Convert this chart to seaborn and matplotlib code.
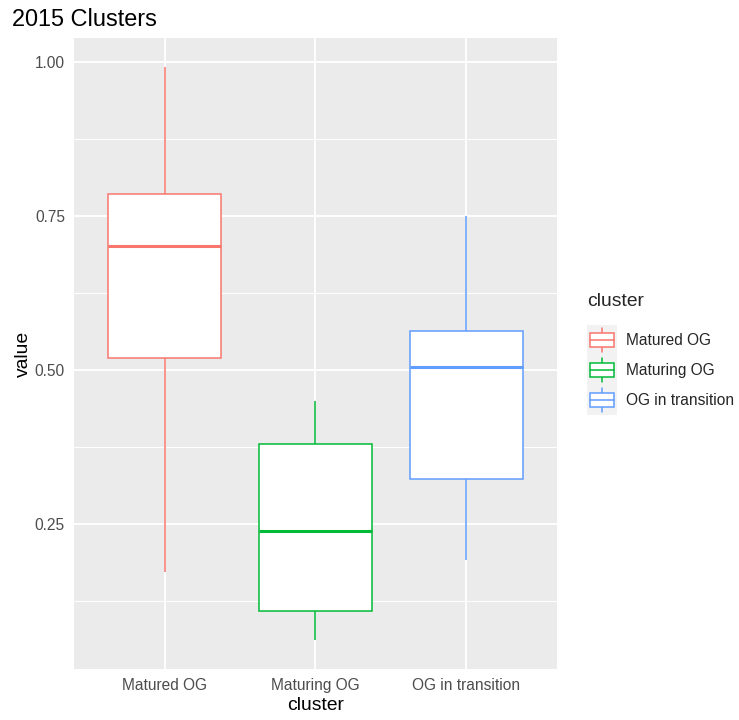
import numpy as np
import pandas as pd
import matplotlib
matplotlib.use("Agg")
import matplotlib.pyplot as plt
import seaborn as sns
from matplotlib.patches import Rectangle
from matplotlib.lines import Line2D
from matplotlib.legend_handler import HandlerBase

# Five-number summaries (min, Q1, median, Q3, max)
clusters = ["Matured OG", "Maturing OG", "OG in transition"]
matured_og = [0.172, 0.519, 0.701, 0.786, 0.992]
maturing_og = [0.062, 0.110, 0.240, 0.380, 0.450]
og_in_transition = [0.192, 0.323, 0.505, 0.563, 0.750]
colors = ["#F8766D", "#00BA38", "#619CFF"]
yticks = [0.25, 0.50, 0.75, 1.00]
ytick_labels = ["0.25", "0.50", "0.75", "1.00"]

df = pd.DataFrame({
    "cluster": np.repeat(clusters, 5),
    "value": matured_og + maturing_og + og_in_transition,
})

sns.set_theme(style="white")
plt.rcParams["font.family"] = ["Liberation Sans", "DejaVu Sans"]

W, H = 739, 720
fig = plt.figure(figsize=(W / 100, H / 100), dpi=100)
ax = fig.add_axes([74 / W, 1 - 669 / H, (557 - 74) / W, (669 - 38) / H])
ax.set_facecolor("#EBEBEB")
for s in ax.spines.values():
    s.set_visible(False)

box_lw = 1.1
for cl, col in zip(clusters, colors):
    sub = df[df["cluster"] == cl]
    sns.boxplot(data=sub, x="cluster", y="value", order=clusters, ax=ax,
                color="white", linecolor=col, fill=True, width=0.75,
                linewidth=box_lw, whis=np.inf, showcaps=False,
                medianprops={"linewidth": 2.2, "color": col},
                whiskerprops={"color": col}, saturation=1)

ax.set_xlim(-0.6, 2.6)
ax.set_ylim(0.0155, 1.0385)
ax.set_yticks(yticks)
ax.set_yticklabels(ytick_labels)
ax.set_yticks([0.125, 0.375, 0.625, 0.875], minor=True)
ax.grid(True, which="major", color="white", linewidth=1.35)
ax.grid(True, which="minor", axis="y", color="white", linewidth=0.7)
ax.set_axisbelow(True)
ax.tick_params(axis="both", which="major", length=3.5, width=1.0, color="#333333",
               labelcolor="#4D4D4D", labelsize=11.2, pad=3)
ax.tick_params(axis="y", which="minor", length=0)
ax.set_xlabel("cluster", fontsize=13.9, color="black", labelpad=3)
ax.set_ylabel("value", fontsize=13.9, color="black", labelpad=2)

fig.text(12 / W, 1 - 19 / H, "2015 Clusters", fontsize=16.9, va="center", ha="left",
         color="black")


class BoxKeyHandler(HandlerBase):
    def create_artists(self, legend, orig_handle, xdescent, ydescent, width, height,
                       fontsize, trans):
        col = orig_handle.get_color()
        x0, y0 = -xdescent, -ydescent
        arts = [Rectangle((x0, y0), width, height, facecolor="#F2F2F2",
                          edgecolor="none", transform=trans)]
        xm = x0 + width / 2
        arts.append(Line2D([xm, xm], [y0 + 0.1 * height, y0 + 0.28 * height],
                           color=col, lw=box_lw, transform=trans))
        arts.append(Line2D([xm, xm], [y0 + 0.72 * height, y0 + 0.9 * height],
                           color=col, lw=box_lw, transform=trans))
        arts.append(Rectangle((x0 + 0.1 * width, y0 + 0.28 * height), 0.8 * width,
                              0.44 * height, facecolor="white", edgecolor=col,
                              lw=box_lw, transform=trans))
        arts.append(Line2D([x0 + 0.1 * width, x0 + 0.9 * width],
                           [y0 + 0.5 * height] * 2, color=col, lw=box_lw,
                           transform=trans))
        return arts


handles = [Line2D([], [], color=c) for c in colors]
fs = 11.2
key_pt = 30 * 72 / 100
hh = (key_pt / fs - 0.245) / 0.65
leg = fig.legend(handles, clusters, title="cluster", loc="upper left",
                 bbox_to_anchor=(587 / W, 1 - 293 / H), frameon=False,
                 fontsize=fs, title_fontsize=13.9, handler_map={Line2D: BoxKeyHandler()},
                 handlelength=key_pt / fs, handleheight=hh, labelspacing=0,
                 handletextpad=9 * 0.72 / fs, borderpad=0, borderaxespad=0,
                 alignment="left")
leg._legend_box.sep = 15 * 0.72

fig.savefig("out.png", dpi=100)
